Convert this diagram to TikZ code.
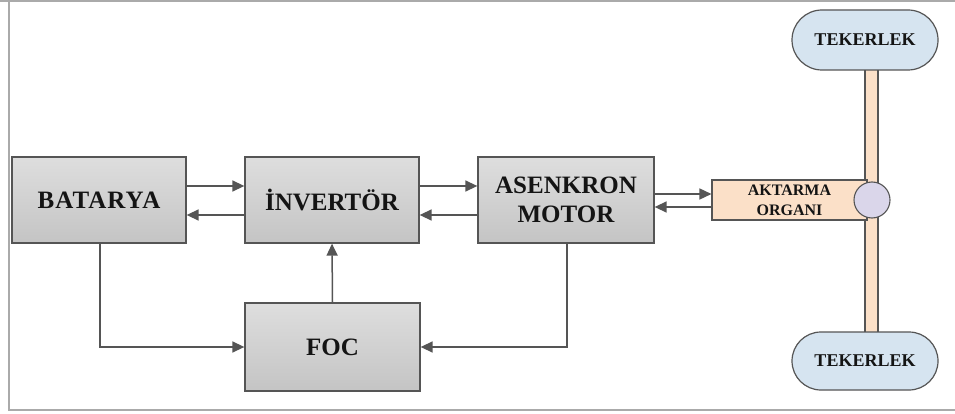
\documentclass[tikz,border=0pt]{standalone}
\usepackage{fontspec}
\setmainfont{Liberation Serif}
\usetikzlibrary{arrows.meta,shapes.misc}
\definecolor{boxtop}{RGB}{222,222,222}
\definecolor{boxbot}{RGB}{196,196,196}
\definecolor{edgec}{RGB}{85,85,85}
\definecolor{peach}{RGB}{251,224,200}
\definecolor{lav}{RGB}{218,214,234}
\definecolor{wheelc}{RGB}{214,228,240}
\definecolor{txt}{RGB}{20,20,20}
\definecolor{frame}{RGB}{170,170,170}
\begin{document}
\begin{tikzpicture}[x=1pt,y=-1pt,
  gbox/.style={draw=edgec,line width=1.3pt,top color=boxtop,bottom color=boxbot,
    text=txt,font=\bfseries\fontsize{25}{29}\selectfont,align=center,inner sep=0pt},
  arr/.style={draw=edgec,line width=1.5pt,-{Triangle[length=12pt,width=11pt]}},
  wheel/.style={rounded rectangle,draw=edgec,line width=1.2pt,fill=wheelc,text=txt,
    font=\bfseries\fontsize{18}{20}\selectfont,inner sep=0pt,minimum width=146pt}]
\useasboundingbox (0,0) rectangle (955,414);
\fill[white] (0,0) rectangle (955,414);
\draw[frame,line width=2pt] (0,1) -- (955,1);
\draw[frame,line width=2pt] (9,1) -- (9,410) -- (955,410);
% boxes
\node[gbox,minimum width=174pt,minimum height=86pt] (bat) at (99,200) {\addfontfeature{LetterSpace=4}BATARYA};
\node[gbox,minimum width=174pt,minimum height=86pt] (inv) at (332,200) {İNVERTÖR};
\node[gbox,minimum width=176pt,minimum height=86pt] (mot) at (566,200) {ASENKRON\\MOTOR};
\node[gbox,minimum width=175pt,minimum height=88pt] (foc) at (332.5,347) {FOC};
% bar and wheels
\node[draw=edgec,line width=1.1pt,fill=peach,minimum width=13pt,minimum height=264pt,inner sep=0pt] (bar) at (871.5,201) {};
\node[wheel,minimum height=60pt] (w1) at (865,40) {TEKERLEK};
\node[wheel,minimum height=58pt] (w2) at (865,361) {TEKERLEK};
\node[draw=edgec,line width=1.1pt,fill=peach,minimum width=155pt,minimum height=40pt,inner sep=0pt,
  text=txt,font=\bfseries\fontsize{16}{20}\selectfont,align=center] (akt) at (789.5,200) {AKTARMA\\ORGANI};
\node[circle,draw=edgec,line width=1.1pt,fill=lav,minimum size=36pt,inner sep=0pt] (hub) at (872,200) {};
% connectors
\draw[arr] ([yshift=14pt]bat.east) -- ([yshift=14pt]inv.west);
\draw[arr] ([yshift=-15pt]inv.west) -- ([yshift=-15pt]bat.east);
\draw[arr] ([yshift=14pt]inv.east) -- ([yshift=14pt]mot.west);
\draw[arr] ([yshift=-15pt]mot.west) -- ([yshift=-15pt]inv.east);
\draw[arr] ([yshift=6pt]mot.east) -- ([yshift=6pt]akt.west);
\draw[arr] ([yshift=-7pt]akt.west) -- ([yshift=-7pt]mot.east);
\draw[arr] ([xshift=1pt]bat.south) |- (foc.west);
\draw[arr] (foc.north) -- (inv.south);
\draw[arr] ([xshift=1pt]mot.south) |- (foc.east);
\end{tikzpicture}
\end{document}
